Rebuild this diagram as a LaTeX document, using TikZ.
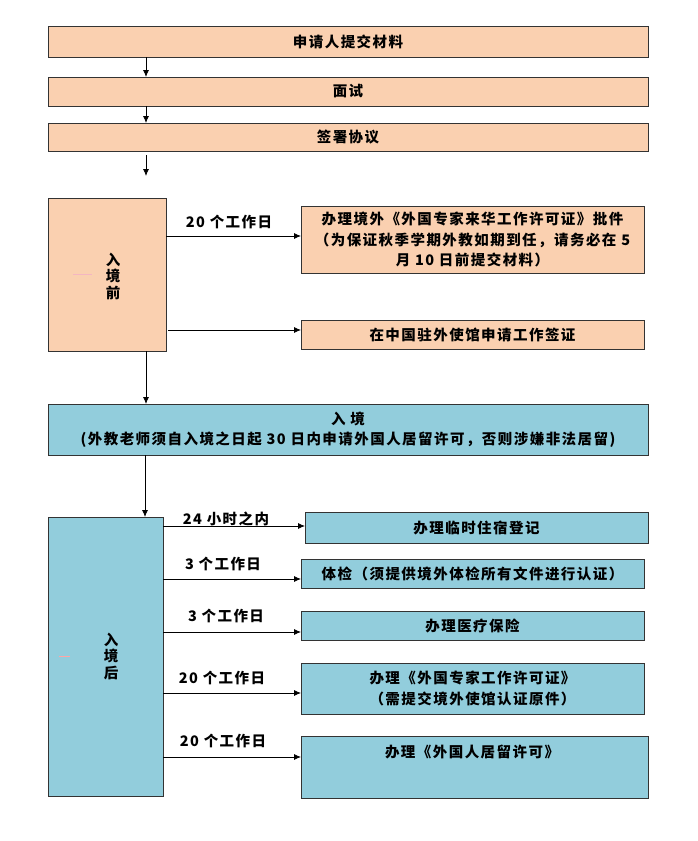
\documentclass[tikz,border=0pt]{standalone}
\usepackage{fontspec}
\setmainfont{Noto Sans CJK SC}[BoldFont={* Black}, LetterSpace=10]
\usetikzlibrary{arrows.meta}
\definecolor{peachc}{HTML}{FAD0B0}
\definecolor{bluec}{HTML}{92CDDC}
\begin{document}
\begin{tikzpicture}[x=1pt,y=-1pt,
  box/.style={draw=black!80, line width=0.8pt, inner sep=0pt, outer sep=0pt, anchor=north west, align=center,
    font=\fontsize{14.5}{20.5}\selectfont\bfseries},
  peach/.style={box, fill=peachc},
  blue/.style={box, fill=bluec},
  txt/.style={inner sep=0pt, align=center, font=\fontsize{14.5}{20.5}\selectfont\bfseries},
  vtxt/.style={inner sep=0pt, align=center, font=\fontsize{14.5}{16.5}\selectfont\bfseries},
  arr/.style={line width=0.8pt, -{Latex[length=7pt,width=6pt]}},
  ln/.style={line width=0.8pt}
]
\useasboundingbox (0,0) rectangle (698,841);
\fill[white] (0,0) rectangle (698,841);
\coordinate (cx) at (146,0);
\coordinate (cy) at (145,0);

% top sequence
\node[peach, minimum width=600pt, minimum height=31pt] (n1) at (48,26) {申请人提交材料};
\node[peach, minimum width=600pt, minimum height=29pt] (n2) at (48,77) {面试};
\node[peach, minimum width=600pt, minimum height=28pt] (n3) at (48,123) {签署协议};
\coordinate (f1) at (146,155);
\coordinate (f2) at (146,176);

\draw[arr] (n1.south -| cx) -- (n2.north -| cx);
\draw[arr] (n2.south -| cx) -- (n3.north -| cx);
\draw[arr] (f1) -- (f2);

% before entry
\node[peach, minimum width=118pt, minimum height=153pt] (pre) at (48,198) {};
\node[vtxt] (pret) at (113,276) {入\\境\\前};
\coordinate (pk1a) at (73,274);
\coordinate (pk1b) at (92,274);
\draw[line width=0.6pt, draw=pink!70!purple!60] (pk1a) -- (pk1b);

\node[peach, minimum width=343pt, minimum height=67pt] (r1) at (301,206)
  {办理境外《外国专家来华工作许可证》批件\\（为保证秋季学期外教如期到任，请务必在 5\\月 10 日前提交材料）};
\node[peach, minimum width=343pt, minimum height=29pt] (r2) at (301,320) {在中国驻外使馆申请工作签证};

\draw[arr] (pre.east |- 0,236) -- (r1.west |- 0,236);
\node[txt] (l1) at (229,222) {20 个工作日};
\coordinate (p2s) at (168,330);
\draw[arr] (p2s) -- (r2.west |- p2s);

% entry
\node[blue, minimum width=600pt, minimum height=51pt] (enter) at (48,404)
  {入 境\\(外教老师须自入境之日起 30 日内申请外国人居留许可，否则涉嫌非法居留)};
\draw[arr] (pre.south -| cx) -- (enter.north -| cx);

% after entry
\node[blue, minimum width=115pt, minimum height=279pt] (post) at (48,517) {};
\node[vtxt] (postt) at (111,656) {入\\境\\后};
\coordinate (pk2a) at (59,656);
\coordinate (pk2b) at (70,656);
\draw[line width=0.6pt, draw=red!35] (pk2a) -- (pk2b);
\draw[arr] (enter.south -| cy) -- (post.north -| cy);

\node[blue, minimum width=343pt, minimum height=31pt] (s1) at (305,512) {办理临时住宿登记};
\node[blue, minimum width=343pt, minimum height=29pt] (s2) at (301,559) {体检（须提供境外体检所有文件进行认证）};
\node[blue, minimum width=343pt, minimum height=29pt] (s3) at (301,611) {办理医疗保险};
\node[blue, minimum width=343pt, minimum height=51pt] (s4) at (301,663) {办理《外国专家工作许可证》\\（需提交境外使馆认证原件）};
\node[blue, minimum width=347pt, minimum height=62pt] (s5) at (301,736) {};
\node[txt] (s5t) at (472,752) {办理《外国人居留许可》};

\draw[arr] (post.east |- 0,526) -- (s1.west |- 0,526);
\draw[arr] (post.east |- 0,579) -- (s2.west |- 0,579);
\draw[arr] (post.east |- 0,632) -- (s3.west |- 0,632);
\draw[arr] (post.east |- 0,693) -- (s4.west |- 0,693);
\draw[arr] (post.east |- 0,757) -- (s5.west |- 0,757);

\node[txt] (m1) at (226,519) {24 小时之内};
\node[txt] (m2) at (223,564) {3 个工作日};
\node[txt] (m3) at (226,616) {3 个工作日};
\node[txt] (m4) at (222,678) {20 个工作日};
\node[txt] (m5) at (223,741) {20 个工作日};
\end{tikzpicture}
\end{document}
